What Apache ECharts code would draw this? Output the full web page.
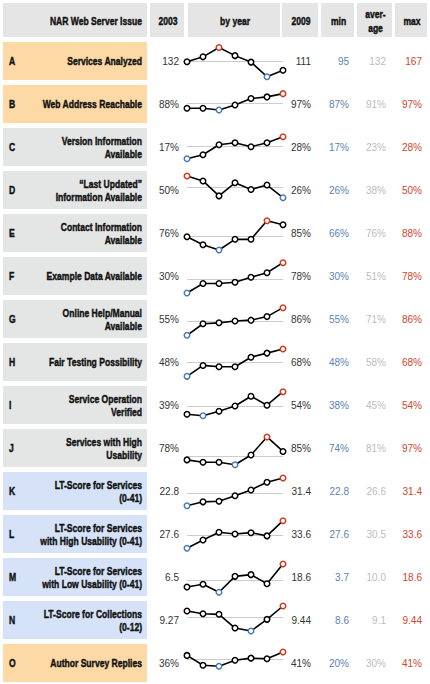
<!DOCTYPE html>
<html>
<head>
<meta charset="utf-8">
<script src="https://cdn.jsdelivr.net/npm/echarts@6/dist/echarts.min.js"></script>
<style>
html,body{margin:0;padding:0;background:#fff;}
#chart{width:430px;height:684px;}
</style>
</head>
<body>
<div id="chart"></div>
<script>
// ---- data ----
const years = ['2003','2004','2005','2006','2007','2008','2009'];
const rowLetters = ['A','B','C','D','E','F','G','H','I','J','K','L','M','N','O'];
const rowNames = [
  'Services Analyzed',
  'Web Address Reachable',
  'Version Information\nAvailable',
  '\u201cLast Updated\u201d\nInformation Available',
  'Contact Information\nAvailable',
  'Example Data Available',
  'Online Help/Manual\nAvailable',
  'Fair Testing Possibility',
  'Service Operation\nVerified',
  'Services with High\nUsability',
  'LT-Score for Services\n(0-41)',
  'LT-Score for Services\nwith High Usability (0-41)',
  'LT-Score for Services\nwith Low Usability (0-41)',
  'LT-Score for Collections\n(0-12)',
  'Author Survey Replies'
];
const rowGroups = ['survey','survey','feature','feature','feature','feature','feature','feature','feature','feature','score','score','score','score','survey'];

const servicesAnalyzed   = [132, 144, 167, 147, 131, 95, 111];
const webAddress         = [88, 88, 87, 90, 94, 95, 97];
const versionInfo        = [17, 19, 24, 25, 23, 25, 28];
const lastUpdated        = [50, 44.5, 28, 42.5, 35, 40, 26];
const contactInfo        = [76, 70, 66, 74, 74, 88, 85];
const exampleData        = [30, 45, 45, 47, 55, 62, 78];
const onlineHelp         = [55, 68, 69, 71, 72, 76, 86];
const fairTesting        = [48, 56, 55, 55, 62, 65, 68];
const operationVerified  = [39, 38, 41, 44.5, 51, 45, 54];
const highUsability      = [78, 76, 76, 74, 82, 97, 85];
const ltScoreServices    = [22.8, 24.0, 24.2, 25.9, 27.7, 30.1, 31.4];
const ltScoreHigh        = [27.6, 29.4, 31.1, 30.7, 31.0, 30.3, 33.6];
const ltScoreLow         = [6.5, 7.9, 3.7, 12.1, 13.0, 8.2, 18.6];
const ltScoreCollections = [9.27, 9.18, 9.16, 8.70, 8.6, 8.99, 9.44];
const authorReplies      = [36, 21.5, 20, 29, 32, 31, 41];

const seriesValues = [servicesAnalyzed, webAddress, versionInfo, lastUpdated, contactInfo,
  exampleData, onlineHelp, fairTesting, operationVerified, highUsability,
  ltScoreServices, ltScoreHigh, ltScoreLow, ltScoreCollections, authorReplies];

// per-row value axis ranges (sparkline scale)
const axisMin = [86.9, 79.0, 13.35, 13.5, 64.5, 26.8, 52.0, 44.6, 32.5, 72.1, 21.47, 26.58, 1.75, 8.331, -3.06];
const axisMax = [180.6, 102.3, 32.35, 55.5, 93.0, 87.0, 94.6, 72.4, 57.8, 103.6, 33.26, 34.84, 21.76, 9.608, 52.75];

const firstLabels = ['132','88%','17%','50%','76%','30%','55%','48%','39%','78%','22.8','27.6','6.5','9.27','36%'];
const lastLabels  = ['111','97%','28%','26%','85%','78%','86%','68%','54%','85%','31.4','33.6','18.6','9.44','41%'];
const minLabels   = ['95','87%','17%','26%','66%','30%','55%','48%','38%','74%','22.8','27.6','3.7','8.6','20%'];
const avgLabels   = ['132','91%','23%','38%','76%','51%','71%','58%','45%','81%','26.6','30.5','10.0','9.1','30%'];
const maxLabels   = ['167','97%','28%','50%','88%','78%','86%','68%','54%','97%','31.4','33.6','18.6','9.44','41%'];

const headerLabels = ['NAR Web Server Issue','2003','by year','2009','min','aver-\nage','max'];

// ---- styles / layout ----
const groupFill = { survey: '#fdd9a6', feature: '#e4e5e5', score: '#d5e2f8' };
const COL = {
  label: [3, 147], first: [150, 184], spark: [188, 280], last: [282, 318],
  min: [321, 354], avg: [357, 392], max: [395, 427]
};
const ROW0 = 42, PITCH = 43, ROWH = 38;
const BOLD = 'bold 11.5px "Liberation Sans", Arial, sans-serif';
const COND = 0.745;
const REG = '10px "Liberation Sans", Arial, sans-serif';
const TXT = '#333', MINC = '#5b84b1', AVGC = '#bcbcbc', MAXC = '#cc4630';
const MIN_MARK = '#4a7bb0', MAX_MARK = '#d2391f';

function text(str, x, y, align, font, fill, sx, heavy) {
  const st = { text: str, x: 0, y: 0, align: align, textAlign: align, verticalAlign: 'middle', textVerticalAlign: 'middle',
      font: font, fill: fill, lineHeight: 13.3 };
  if (heavy) { st.stroke = fill; st.lineWidth = 0.45; }
  return { type: 'text', silent: true, z: 10, x: x, y: y, scaleX: sx || 1, scaleY: 1, style: st };
}
function rect(x0, y0, x1, y1, fill) {
  return { type: 'rect', silent: true, z: 0, shape: { x: x0, y: y0, width: x1 - x0, height: y1 - y0 }, style: { fill: fill } };
}

const graphics = [];
// header
const hKeys = ['label','first','spark','last','min','avg','max'];
hKeys.forEach((k, i) => {
  const c = COL[k];
  graphics.push(rect(c[0], 3, c[1], 37, '#e5e5e5'));
  if (i === 0) graphics.push(text(headerLabels[i], 142, 21, 'right', BOLD, '#111', COND, true));
  else graphics.push(text(headerLabels[i], (c[0] + c[1]) / 2 + 1, 21, 'center', BOLD, '#111', COND, true));
});

const grids = [], xAxes = [], yAxes = [], series = [];
seriesValues.forEach((vals, i) => {
  const top = ROW0 + i * PITCH;
  const cy = top + ROWH / 2 + 0.5;
  graphics.push(rect(COL.label[0], top, COL.label[1], top + ROWH, groupFill[rowGroups[i]]));
  graphics.push(text(rowLetters[i], 9, cy, 'left', BOLD, '#111', COND, true));
  graphics.push(text(rowNames[i], 142, cy, 'right', BOLD, '#111', COND, true));
  graphics.push(text(firstLabels[i], 179, cy, 'right', REG, TXT));
  graphics.push(text(lastLabels[i], 311, cy, 'right', REG, TXT));
  graphics.push(text(minLabels[i], 349, cy, 'right', REG, MINC));
  graphics.push(text(avgLabels[i], 386, cy, 'right', REG, AVGC));
  graphics.push(text(maxLabels[i], 422, cy, 'right', REG, MAXC));

  grids.push({ left: 187, width: 96, top: top, height: ROWH, containLabel: false });
  xAxes.push({ gridIndex: i, type: 'category', data: years, boundaryGap: false, show: false });
  yAxes.push({ gridIndex: i, type: 'value', min: axisMin[i], max: axisMax[i], show: false, splitLine: { show: false } });

  let mn = 0, mx = 0;
  vals.forEach((v, j) => { if (v < vals[mn]) mn = j; if (v > vals[mx]) mx = j; });
  const data = vals.map((v, j) => {
    const o = { value: v };
    if (j === mn) o.itemStyle = { borderColor: MIN_MARK };
    if (j === mx) o.itemStyle = { borderColor: MAX_MARK };
    return o;
  });
  series.push({
    type: 'line', xAxisIndex: i, yAxisIndex: i, data: data,
    symbol: 'circle', symbolSize: 5.5, showAllSymbol: true,
    lineStyle: { color: '#000', width: 1.6 },
    itemStyle: { color: '#fff', borderColor: '#000', borderWidth: 1.5 },
    emphasis: { disabled: true },
    z: 3,
    markLine: {
      silent: true, z: 1, symbol: ['none', 'none'], label: { show: false },
      lineStyle: { color: '#cccccc', type: 'solid', width: 1 },
      emphasis: { disabled: true },
      data: [{ type: 'average' }]
    }
  });
});

const chart = echarts.init(document.getElementById('chart'), null, { renderer: 'svg' });
chart.setOption({
  animation: false,
  backgroundColor: '#fff',
  grid: grids,
  xAxis: xAxes,
  yAxis: yAxes,
  series: series,
  graphic: { elements: graphics }
});
</script>
</body>
</html>
